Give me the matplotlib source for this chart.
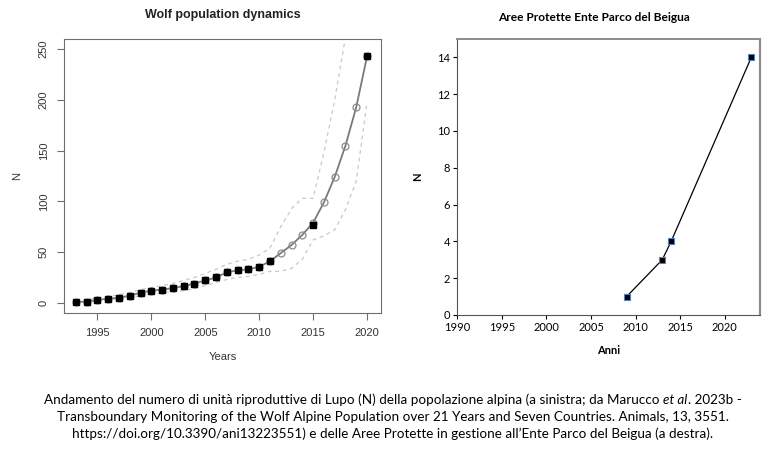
import numpy as np
import matplotlib.pyplot as plt

# left panel: wolf population (Marucco et al. 2023b)
years = list(range(1993, 2021))
fitted = [1, 1, 3, 4, 5, 7, 10, 12, 13, 14.5, 16.5, 19, 22, 25, 30, 32, 33, 35.5,
          41, 49, 57, 67, 79, 99, 124, 155, 193, 243]
upper = [2, 3, 5, 6, 8, 10, 13, 15, 17, 19, 22, 25, 29, 33, 38, 41, 43, 47,
         54, 75, 93, 103, 103, 148, 200, 262, 330, 400]
lower = [0, 0.5, 2, 3, 4, 5, 7, 9, 10, 11, 12, 14, 17, 20, 23, 25, 26, 28,
         31, 31, 34, 43, 62, 66, 72, 92, 120, 198]
obs_years = list(range(1993, 2012)) + [2015, 2020]
observed = [1, 1, 3, 4, 5, 7, 10, 12, 13, 14.5, 16.5, 19, 22, 25, 30, 32, 33, 35.5,
            41, 77, 243]

# right panel: Parco del Beigua
beigua_years = [2009, 2013, 2014, 2023]
beigua_n = [1, 3, 4, 14]

caption_1 = "Andamento del numero di unità riproduttive di Lupo (N) della popolazione alpina (a sinistra; da Marucco "
caption_it = "et al"
caption_1b = ". 2023b -"
caption_2 = "Transboundary Monitoring of the Wolf Alpine Population over 21 Years and Seven Countries. Animals, 13, 3551."
caption_3 = "https://doi.org/10.3390/ani13223551) e delle Aree Protette in gestione all\u2019Ente Parco del Beigua (a destra)."

fig = plt.figure(figsize=(7.83, 4.65), dpi=100)

# ---- left chart (R style)
ax1 = fig.add_axes([0.0817, 0.327, 0.405, 0.589])
rfont = 'Liberation Sans'
ax1.plot(years, upper, color='#c8c8c8', ls=(0, (3, 3)), lw=0.9)
ax1.plot(years, lower, color='#c8c8c8', ls=(0, (3, 3)), lw=0.9)
ax1.plot(years, fitted, color='#7a7a7a', lw=1.3, marker='o', ms=5,
         mfc='none', mec='#8a8a8a', mew=0.9)
ax1.plot(obs_years, observed, ls='none', marker='s', ms=4.8, color='black')
ax1.set_xlim(1991.9, 2021.3)
ax1.set_ylim(-10, 260)
ax1.set_xticks([1995, 2000, 2005, 2010, 2015, 2020])
ax1.set_yticks([0, 50, 100, 150, 200, 250])
for s in ax1.spines.values():
    s.set_color('#6e6e6e')
ax1.tick_params(length=5, color='#6e6e6e', labelsize=8, labelcolor='#333333', pad=6)
for lab in ax1.get_xticklabels() + ax1.get_yticklabels():
    lab.set_family(rfont)
for lab in ax1.get_yticklabels():
    lab.set_rotation(90)
    lab.set_va('center')
ax1.set_title("Wolf population dynamics", fontsize=9, fontweight='bold',
              family=rfont, color='#222222', pad=15)
ax1.set_xlabel("Years", fontsize=8, family=rfont, color='#333333', labelpad=10)
ax1.set_ylabel("N", fontsize=8, family=rfont, color='#333333', labelpad=12)

# ---- right chart (Excel style)
ax2 = fig.add_axes([0.584, 0.3226, 0.387, 0.594])
efont = 'Lato'
ax2.plot(beigua_years, beigua_n, color='black', lw=0.9, marker='s', ms=4,
         mfc='black', mec='#5a7fb5', mew=0.8)
ax2.set_xlim(1990, 2024)
ax2.set_ylim(0, 15)
ax2.set_xticks([1990, 1995, 2000, 2005, 2010, 2015, 2020])
ax2.set_yticks([0, 2, 4, 6, 8, 10, 12, 14])
ax2.spines['top'].set_color('#8c8c8c')
ax2.spines['right'].set_color('#8c8c8c')
ax2.spines['top'].set_linewidth(1.4)
ax2.spines['right'].set_linewidth(1.6)
ax2.spines['left'].set_color('#555555')
ax2.spines['bottom'].set_color('#555555')
ax2.tick_params(length=3, labelsize=8, pad=2)
for lab in ax2.get_xticklabels() + ax2.get_yticklabels():
    lab.set_family(efont)
ax2.set_title("Aree Protette Ente Parco del Beigua", fontsize=8.6, fontweight='bold',
              family=efont, x=0.45, pad=13)
ax2.set_xlabel("Anni", fontsize=8, fontweight='bold', family=efont, labelpad=9)
ax2.set_ylabel("N", fontsize=8, fontweight='bold', family=efont, labelpad=10)

# ---- caption
cfont = 'Lato'
csize = 9.7
renderer = fig.canvas.get_renderer()
parts = [(caption_1, 'normal'), (caption_it, 'italic'), (caption_1b, 'normal')]
texts = [fig.text(0, 1 - 400 / 465, p, fontsize=csize, family=cfont, style=st,
                  va='center') for p, st in parts]
widths = [t.get_window_extent(renderer).width for t in texts]
x0 = 393 - sum(widths) / 2
for t, w in zip(texts, widths):
    t.set_x(x0 / 783)
    x0 += w
fig.text(393 / 783, 1 - 417 / 465, caption_2, fontsize=csize, family=cfont,
         ha='center', va='center')
fig.text(393 / 783, 1 - 434 / 465, caption_3, fontsize=csize, family=cfont,
         ha='center', va='center')

fig.savefig('out.png', dpi=100)
